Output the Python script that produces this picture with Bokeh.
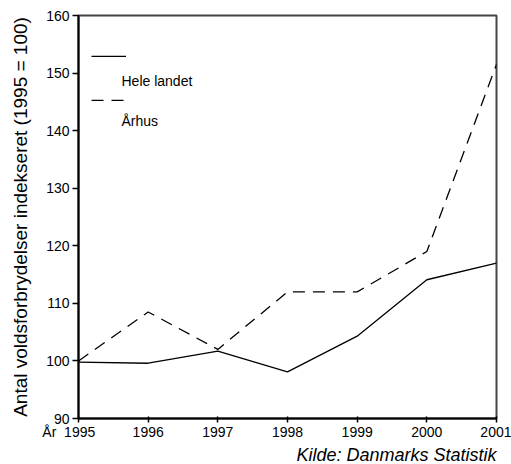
from bokeh.plotting import figure
from bokeh.models import Range1d, Legend, LegendItem, Label, FixedTicker, Title
from bokeh.embed import file_html
from bokeh.resources import INLINE

years = [1995, 1996, 1997, 1998, 1999, 2000, 2001]
hele_landet = [99.8, 99.6, 101.7, 98.1, 104.3, 114.1, 117.0]
aarhus = [100.0, 108.5, 102.0, 112.0, 112.0, 119.0, 151.5]
y_ticks = [90, 100, 110, 120, 130, 140, 150, 160]
series_names = ["Hele landet", "Århus"]
x_axis_word = "År"
source_note = "Kilde: Danmarks Statistik"

FONT = "Liberation Sans"
NBSP = "\u00a0"

p = figure(width=511, height=464, output_backend="svg", toolbar_location=None,
           x_range=Range1d(1995, 2001), y_range=Range1d(90, 160),
           min_border_top=15, min_border_right=15, min_border_left=78,
           min_border_bottom=44)

r1 = p.line(years, hele_landet, line_color="black", line_width=1.3)
r2 = p.line(years, aarhus, line_color="black", line_width=1.3, line_dash="12 8")

p.xgrid.visible = False
p.ygrid.visible = False
p.outline_line_color = "#444444"
p.outline_line_width = 2

p.xaxis.ticker = FixedTicker(ticks=years)
p.yaxis.ticker = FixedTicker(ticks=y_ticks)
# first year label carries the axis word "År" to its left
p.xaxis.major_label_overrides = {
    years[0]: x_axis_word + NBSP * 2 + str(years[0]) + NBSP * 5
}
for ax in (p.xaxis, p.yaxis):
    ax.axis_line_color = "black"
    ax.axis_line_width = 2
    ax.major_tick_line_color = "black"
    ax.major_tick_line_width = 1.5
    ax.minor_tick_line_color = None
    ax.major_label_text_font = FONT
    ax.major_label_text_font_size = "14px"
    ax.major_label_text_color = "black"
p.xaxis.major_tick_in = 2
p.xaxis.major_tick_out = 4
p.yaxis.major_tick_in = 0
p.yaxis.major_tick_out = 6
p.xaxis.major_label_standoff = 1
p.yaxis.major_label_standoff = 3
p.yaxis.axis_label = "Antal voldsforbrydelser indekseret (1995 = 100)"
p.yaxis.axis_label_text_font = FONT
p.yaxis.axis_label_text_font_style = "normal"
p.yaxis.axis_label_text_font_size = "19px"
p.yaxis.axis_label_text_color = "black"
p.yaxis.axis_label_standoff = 12

legend = Legend(items=[LegendItem(label=" ", renderers=[r1]),
                       LegendItem(label=" ", renderers=[r2])],
                location=(13, 296), glyph_width=35, glyph_height=2,
                label_height=44, label_standoff=0, spacing=0,
                padding=0, margin=0, border_line_color=None,
                background_fill_alpha=0,
                label_text_font=FONT, label_text_font_size="14px")
p.add_layout(legend)

for name, dy in zip(series_names, [-65, -105]):
    p.add_layout(Label(x=1995, y=160, text=name, x_offset=43, y_offset=dy,
                       text_baseline="middle", text_font=FONT,
                       text_font_size="14px", text_color="black"))

p.add_layout(Title(text=source_note, align="right", text_font=FONT,
                   text_font_style="italic", text_font_size="18px",
                   text_color="black", standoff=0), "below")

open("out.html", "w").write(file_html(p, INLINE))
